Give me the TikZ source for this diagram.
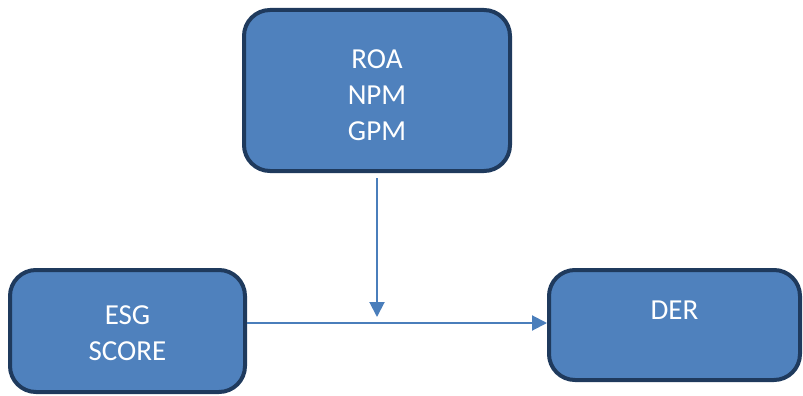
\documentclass[tikz,border=0pt]{standalone}
\usepackage{fontspec}
\setmainfont{Carlito}
\usetikzlibrary{arrows.meta}
\definecolor{boxfill}{HTML}{4F81BD}
\definecolor{boxedge}{HTML}{1F3A5D}
\definecolor{arrowc}{HTML}{4A7EBB}
\tikzset{
  box/.style={draw=boxedge, fill=boxfill, line width=4pt, rounded corners=26pt,
    rectangle, inner sep=0pt, text=white, align=center,
    font=\fontsize{29}{36}\selectfont},
  arr/.style={draw=arrowc, line width=2pt, -{Triangle[length=15pt,width=15pt]}}
}
\begin{document}
\begin{tikzpicture}[x=1pt,y=-1pt]
\useasboundingbox (0,0) rectangle (803,396);
\node[box, minimum width=266pt, minimum height=161pt] (top) at (377,90.5) {\rule{0pt}{29pt}ROA\\NPM\\GPM};
\node[box, minimum width=235pt, minimum height=122pt] (esg) at (127.5,331) {\rule{0pt}{24pt}ESG\\SCORE};
\node[box, minimum width=251pt, minimum height=110pt,
  label={[name=dertext, text=white, font=\fontsize{29}{36}\selectfont, yshift=15pt]center:DER}] (der) at (674.5,325) {};
\coordinate (vend) at (377,317);
\draw[arr] ([yshift=-5pt]top.south) -- (vend);
\draw[arr] (esg.east |- 0,323) -- (der.west |- 0,323);
\end{tikzpicture}
\end{document}
